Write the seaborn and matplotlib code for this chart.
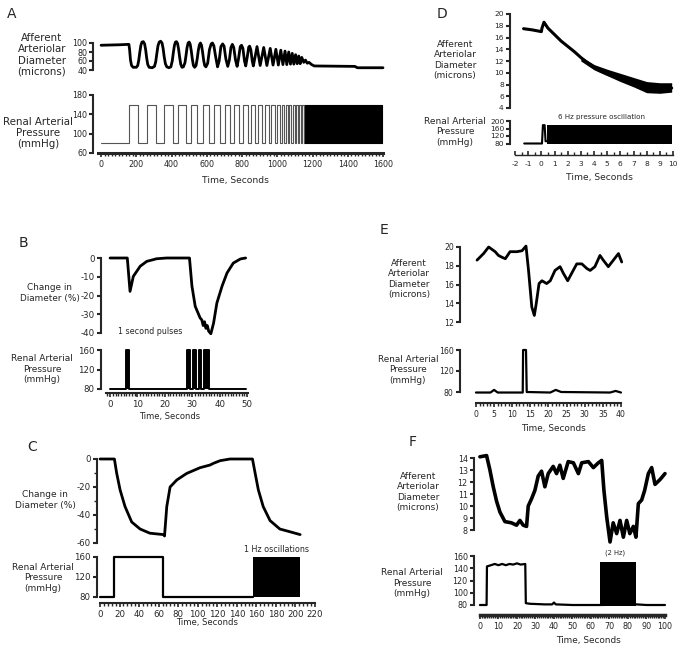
"""Six-panel afferent arteriole / renal pressure figure (A-F)."""

import matplotlib
matplotlib.use("Agg")
import matplotlib.pyplot as plt
import numpy as np
import seaborn as sns
from matplotlib.ticker import FixedLocator, MultipleLocator

W, H = 685, 651

# ---------------- panel A ----------------
a_diam_t = [0, 100, 158, 162, 167, 173, 182, 200, 208, 214, 220, 226, 232, 240, 247, 253,
            259, 265, 273, 290, 303, 310, 317, 323, 330, 338, 346, 352, 358, 365, 373, 385,
            396, 404, 410, 416, 422, 428, 434, 440, 446, 452, 459, 467, 476, 482, 488, 494,
            500, 506, 512, 518, 524, 531, 539, 546, 552, 558, 564, 570, 576, 582, 588, 595,
            605, 615, 625, 632, 640, 650, 661, 670, 680, 690, 698, 708, 719, 728, 737, 745,
            753, 763, 772, 780, 790, 797, 805, 814, 821, 830, 838, 843, 850, 858, 864, 872,
            885, 903, 923, 941, 960, 976, 992, 1006, 1020, 1032, 1044, 1054, 1065, 1075,
            1085, 1094, 1104, 1113, 1122, 1130, 1139, 1150, 1160, 1170, 1180, 1195, 1210,
            1440, 1455, 1600]
a_diam_v = [95, 96, 97, 85, 62, 50, 46, 46, 50, 62, 80, 95, 102, 103, 98, 85,
            66, 52, 46, 45, 48, 58, 78, 94, 102, 104, 100, 88, 70, 54, 47, 45,
            47, 60, 78, 94, 102, 103, 99, 86, 68, 53, 46, 47, 56, 72, 90, 100,
            102, 97, 82, 64, 50, 46, 50, 66, 84, 96, 100, 95, 80, 62, 50, 47,
            55, 85, 98, 100, 94, 70, 47, 60, 92, 98, 93, 65, 48, 62, 90, 97,
            90, 62, 48, 65, 92, 95, 88, 60, 49, 70, 91, 93, 85, 60, 49, 65,
            92, 50, 90, 50, 88, 51, 86, 51, 84, 52, 82, 52, 80, 53,
            77, 53, 74, 54, 71, 54, 68, 57, 62, 55, 57, 52, 49,
            48, 45, 45]
a_press_on = [161, 259, 359, 439, 509, 577, 643, 703, 756, 807, 851, 892, 930, 966, 998,
              1025, 1048, 1069, 1089, 1108, 1125, 1142]
a_press_off = [212, 312, 406, 482, 546, 614, 675, 732, 784, 832, 875, 913, 951, 985, 1013,
               1038, 1060, 1080, 1099, 1117, 1134, 1150]
a_press_low, a_press_high = 80, 160
a_dense = [1150, 1597]

# ---------------- panel B ----------------
b_diam_t = [0, 6.3, 7.3, 8.5, 11, 13.4, 17, 20.7, 29, 29.9, 31.1, 32.9, 33.5, 34, 34.5,
            35, 35.5, 36, 36.8, 37.8, 39, 40.9, 42.7, 45, 47.6, 49.5]
b_diam_v = [0, 0, -17.8, -9.8, -4.4, -1.8, -0.4, 0, 0, -15, -25.8, -32, -33, -36, -34,
            -37.5, -36, -39, -40.4, -34.7, -24, -15, -8, -2.7, -0.5, 0]
b_press_on = [5.8, 28.2, 30.3, 32.4, 34.4]
b_press_off = [6.9, 29.2, 31.3, 33.3, 36.2]
b_press_end = 49.5

# ---------------- panel C ----------------
c_diam_t = [0, 14.7, 17, 20.5, 25.6, 32.4, 41, 51, 65, 66, 68.3, 71.7, 78.5, 88.7, 102.4,
            112.6, 116, 122.9, 133, 156, 158.7, 162, 167, 174, 184, 194.5, 204.8]
c_diam_v = [0, 0, -10, -22, -34, -45, -50, -53, -54, -55, -34, -20, -15, -10.3, -6.2,
            -4.3, -3.1, -1.2, 0, 0, -10, -22, -34, -44, -50, -52, -54]
c_press_on = [14.5]
c_press_off = [64.2]
c_press_end = 157
c_dense = [157, 205]

# ---------------- panel D ----------------
d_diam_t = [-1.35, -0.7, 0.0, 0.05, 0.2, 0.5, 1.0, 1.5, 2.0, 2.5, 3.0, 3.5, 4.0, 4.5, 5.0,
            5.5, 6.0, 6.5, 7.0, 7.5, 8.0, 8.5, 9.0, 9.5, 9.9]
d_diam_v = [17.5, 17.3, 17.0, 17.6, 18.6, 17.6, 16.5, 15.4, 14.5, 13.6, 12.6, 11.7, 11.0,
            10.3, 9.8, 9.4, 9.0, 8.7, 8.2, 7.8, 7.3, 7.2, 7.3, 7.3, 7.4]
d_band_t = [3, 4, 5, 6, 7, 8, 9, 9.9]
d_band_hi = [12.8, 11.4, 10.6, 9.9, 9.2, 8.5, 8.3, 8.3]
d_band_lo = [12.0, 10.5, 9.5, 8.5, 7.6, 6.6, 6.5, 6.7]
d_press_t = [-1.3, 0.05, 0.12, 0.25, 0.32, 0.45]
d_press_v = [80, 80, 178, 178, 92, 92]
d_dense = [0.45, 9.9]
d_dense_lo, d_dense_hi = 80, 180

# ---------------- panel E ----------------
e_diam_t = [0.3, 2.1, 3.5, 5.3, 6.2, 7.2, 8.1, 9.4, 11.3, 12.7, 13.8, 14.5, 15.4, 16.1,
            16.6, 17.4, 18.2, 19.5, 20.5, 21.8, 23.2, 24.1, 25.3, 26.4, 27.8, 29.2, 30.6,
            31.5, 32.8, 34.2, 35.1, 36.5, 37.9, 39.3, 40.2]
e_diam_v = [18.6, 19.3, 20.0, 19.5, 19.1, 18.9, 18.75, 19.5, 19.5, 19.6, 20.1, 17.5, 13.6,
            12.7, 13.9, 16.1, 16.4, 16.1, 16.4, 17.5, 17.9, 17.2, 16.4, 17.2, 18.2, 18.2,
            17.7, 17.5, 17.9, 19.1, 18.6, 17.9, 18.6, 19.3, 18.4]
e_press_t = [0, 4, 5, 6, 12.9, 13.0, 13.8, 14.0, 20.5, 22, 23.5, 37, 38.5, 40]
e_press_v = [79, 79, 84, 79, 79, 160, 160, 80, 79, 84, 80, 79, 82, 79]

# ---------------- panel F ----------------
f_diam_t = [0, 3.6, 5.4, 7.2, 9, 10.8, 13.5, 17, 19.8, 21.6, 23.4, 25.2, 26.1, 27.9, 29.7,
            31.5, 33.3, 35.1, 36.9, 39.6, 41.4, 43.2, 45, 47.7, 50.5, 53.2, 55, 58.6, 61.3,
            64, 65.8, 67, 68.5, 70.3, 72, 73.9, 75.7, 77.5, 79.3, 81, 82.9, 84.3, 85.6,
            87.4, 89, 91, 92.8, 94.6, 97.3, 100]
f_diam_v = [14.1, 14.2, 13.0, 11.6, 10.4, 9.5, 8.7, 8.6, 8.4, 8.8, 8.4, 8.3, 10.0, 10.6,
            11.3, 12.5, 12.9, 11.6, 12.7, 13.3, 12.7, 13.4, 12.3, 13.7, 13.6, 12.7, 13.6,
            13.7, 13.2, 13.6, 13.8, 11.3, 9.1, 7.0, 8.6, 7.7, 8.8, 7.4, 8.8, 7.7, 8.3, 7.4,
            10.2, 10.5, 11.3, 12.7, 13.2, 11.8, 12.2, 12.7]
f_press_t = [0, 3.6, 3.8, 6, 8, 10, 12, 14, 16, 18, 20, 22, 24.5, 24.8, 27, 35, 39, 40, 41,
             50, 64.5, 84.5, 90, 100]
f_press_v = [80, 80, 143, 145, 147, 145, 147, 145, 147, 146, 148, 146, 147, 83, 82, 81, 81,
             84, 81, 80, 80, 81, 80, 80]
f_dense = [65, 84.3]
f_dense_lo, f_dense_hi = 75, 151


def steps(on, off, low, high, end):
    xs, ys = [0], [low]
    for t_on, t_off in zip(on, off):
        xs += [t_on, t_off]
        ys += [high, low]
    xs.append(end)
    ys.append(low)
    return xs, ys


def axes_px(fig, left, top, right, bottom):
    return fig.add_axes([left / W, 1 - bottom / H, (right - left) / W, (bottom - top) / H])


def ftext(fig, x, y, s, size, **kw):
    fig.text(x / W, 1 - y / H, s, ha="center", va="center", fontsize=size,
             multialignment="center", **kw)


def style_y(ax, ticks, fs):
    ax.set_ylim(ticks[0], ticks[-1])
    ax.set_yticks(ticks)
    ax.spines["left"].set_bounds(ticks[0], ticks[-1])
    ax.spines["left"].set_linewidth(1.5)
    ax.tick_params(axis="y", length=3, width=1.5, pad=1.5, labelsize=fs)
    for s in ("top", "right"):
        ax.spines[s].set_visible(False)


def upper(ax, ticks, fs, xlim):
    style_y(ax, ticks, fs)
    ax.set_xlim(*xlim)
    ax.spines["bottom"].set_visible(False)
    ax.set_xticks([])


def lower(ax, ticks, fs, xlim, major, minor, bounds, offset, lw=1.5, tick_dir="out",
          pad=2):
    style_y(ax, ticks, fs)
    ax.set_xlim(*xlim)
    sp = ax.spines["bottom"]
    sp.set_position(("outward", offset))
    sp.set_bounds(*bounds)
    sp.set_linewidth(lw)
    lo, hi = bounds
    start = np.ceil(lo / major) * major
    ax.xaxis.set_major_locator(FixedLocator(np.arange(start, hi + 1e-6, major)))
    start = np.ceil(lo / minor) * minor
    ax.xaxis.set_minor_locator(FixedLocator(np.arange(start, hi + 1e-6, minor)))
    ax.tick_params(axis="x", which="major", length=3, width=1.2, pad=pad, labelsize=fs,
                   direction=tick_dir)
    ax.tick_params(axis="x", which="minor", length=2, width=1.0, direction=tick_dir)
    ax.xaxis.set_major_formatter(lambda v, _: f"{round(v) + 0:d}")


def trace(ax, x, y, lw, color="black", **kw):
    sns.lineplot(x=x, y=y, ax=ax, color=color, linewidth=lw, estimator=None, sort=False,
                 clip_on=False, **kw)


sns.set_style("ticks")
plt.rcParams["font.family"] = ["DejaVu Sans"]
plt.rcParams["axes.unicode_minus"] = False

fig = plt.figure(figsize=(W / 100, H / 100), dpi=100)

# ---- A ----
ax = axes_px(fig, 93.5, 43, 383, 70)
trace(ax, a_diam_t, a_diam_v, 2.0)
upper(ax, [40, 60, 80, 100], 5.8, (-43, 1600))
ax = axes_px(fig, 93.5, 95, 383, 153)
xs, ys = steps(a_press_on, a_press_off, a_press_low, a_press_high, a_dense[0])
trace(ax, xs, ys, 0.8, color="#555555", drawstyle="steps-post")
ax.fill_between(a_dense, a_press_low, a_press_high, color="black", lw=0.8)
lower(ax, [60, 100, 140, 180], 5.8, (-43, 1600), 200, 20, (-15, 1600), 0, lw=2.2)

# ---- D ----
ax = axes_px(fig, 510, 14, 673, 108)
ax.fill_between(d_band_t, d_band_lo, d_band_hi, color="black", lw=0)
trace(ax, d_diam_t, d_diam_v, 2.2)
upper(ax, [4, 6, 8, 10, 12, 14, 16, 18, 20], 5.4, (-2.38, 10))
ax = axes_px(fig, 510, 121, 673, 143.5)
trace(ax, d_press_t, d_press_v, 1.5)
ax.fill_between(d_dense, d_dense_lo, d_dense_hi, color="black", lw=0)
lower(ax, [80, 120, 160, 200], 5.4, (-2.38, 10), 1, 0.5, (-2, 10), 8.5, lw=1.0,
      tick_dir="in", pad=4)
ax.tick_params(axis="y", pad=1)

# ---- B ----
ax = axes_px(fig, 101, 258, 247, 333)
trace(ax, b_diam_t, b_diam_v, 2.0)
upper(ax, [-40, -30, -20, -10, 0], 6.2, (-3.3, 50))
ax = axes_px(fig, 101, 350, 247, 389)
xs, ys = steps(b_press_on, b_press_off, 80, 160, b_press_end)
ax.fill_between(xs, 80, ys, step="post", color="black", lw=0)
trace(ax, xs, ys, 1.4, drawstyle="steps-post")
lower(ax, [80, 120, 160], 6.2, (-3.3, 50), 10, 1, (-1.5, 50.5), 3)

# ---- E ----
ax = axes_px(fig, 460, 247, 621, 322)
trace(ax, e_diam_t, e_diam_v, 2.0)
upper(ax, [12, 14, 16, 18, 20], 5.6, (-4.4, 40))
ax = axes_px(fig, 460, 350, 621, 392)
trace(ax, e_press_t, e_press_v, 1.6)
lower(ax, [80, 120, 160], 5.6, (-4.4, 40), 5, 1, (0, 40), 8)

# ---- C ----
ax = axes_px(fig, 97, 459, 315, 543)
trace(ax, c_diam_t, c_diam_v, 2.0)
upper(ax, [-60, -40, -20, 0], 6.2, (-3.1, 220))
ax.yaxis.set_minor_locator(MultipleLocator(10))
ax.tick_params(axis="y", which="minor", length=2, width=1.0)
ax = axes_px(fig, 97, 557, 315, 597)
xs, ys = steps(c_press_on, c_press_off, 80, 160, c_press_end)
trace(ax, xs, ys, 1.6, drawstyle="steps-post")
ax.fill_between(c_dense, 80, 160, color="black", lw=0)
lower(ax, [80, 120, 160], 6.2, (-3.1, 220), 20, 4, (0, 220), 4.3)

# ---- F ----
ax = axes_px(fig, 474, 458, 665, 530)
trace(ax, f_diam_t, f_diam_v, 2.6)
upper(ax, [8, 9, 10, 11, 12, 13, 14], 5.8, (-3.2, 100))
ax = axes_px(fig, 474, 556, 665, 605)
trace(ax, f_press_t, f_press_v, 1.6)
ax.fill_between(f_dense, f_dense_lo, f_dense_hi, color="black", lw=0)
lower(ax, [80, 100, 120, 140, 160], 5.8, (-3.2, 100), 10, 1, (0, 100), 7.2, lw=2.5)

# ---- text ----
diam_lbl = "Afferent\nArteriolar\nDiameter\n(microns)"
press_lbl = "Renal Arterial\nPressure\n(mmHg)"
change_lbl = "Change in\nDiameter (%)"
ls = 1.15

ftext(fig, 42, 55, diam_lbl, 7.4, linespacing=ls)
ftext(fig, 38, 133, press_lbl, 7.4, linespacing=ls)
ftext(fig, 455, 60, diam_lbl, 6.5, linespacing=ls)
ftext(fig, 455, 132, press_lbl, 6.5, linespacing=ls)
ftext(fig, 50, 293, change_lbl, 6.4, linespacing=ls)
ftext(fig, 42, 369, press_lbl, 6.5, linespacing=ls)
ftext(fig, 409, 279, diam_lbl, 6.4, linespacing=ls)
ftext(fig, 408, 370, press_lbl, 6.4, linespacing=ls)
ftext(fig, 45, 500, change_lbl, 6.5, linespacing=ls)
ftext(fig, 43, 578, press_lbl, 6.5, linespacing=ls)
ftext(fig, 418, 492, diam_lbl, 6.5, linespacing=ls)
ftext(fig, 412, 583, press_lbl, 6.5, linespacing=ls)

ftext(fig, 235, 180, "Time, Seconds", 6.6)
ftext(fig, 599, 177, "Time, Seconds", 6.6)
ftext(fig, 170, 417, "Time, Seconds", 6.0)
ftext(fig, 553, 428, "Time, Seconds", 6.4)
ftext(fig, 207, 623, "Time, Seconds", 6.1)
ftext(fig, 588, 640, "Time, Seconds", 6.4)

ftext(fig, 602, 117, "6 Hz pressure oscillation", 5.1)
ftext(fig, 150, 332, "1 second pulses", 5.8)
ftext(fig, 276, 549, "1 Hz oscillations", 5.8)
ftext(fig, 615, 553, "(2 Hz)", 4.9)

for letter, x, y in [("A", 12, 14), ("D", 442, 14), ("B", 23, 243), ("E", 384, 230),
                     ("C", 32, 447), ("F", 413, 442)]:
    ftext(fig, x, y, letter, 10)

fig.savefig("out.png", dpi=100)
